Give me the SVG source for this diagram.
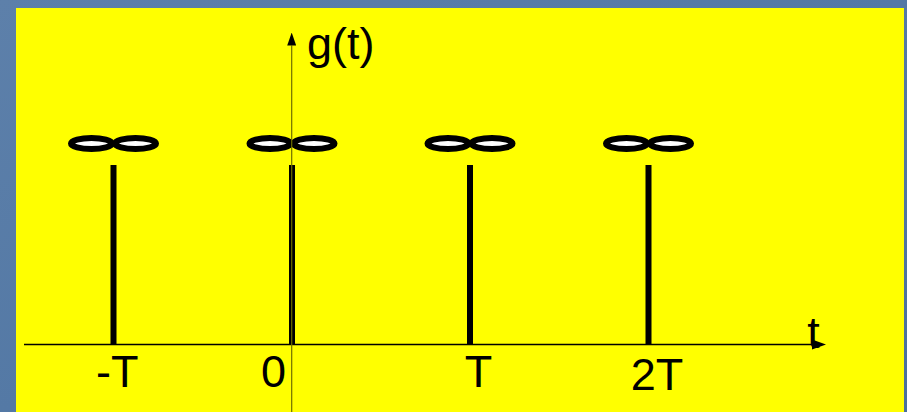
<svg xmlns="http://www.w3.org/2000/svg" width="907" height="412" viewBox="0 0 907 412">
  <defs>
    <linearGradient id="bg" x1="0" y1="0" x2="1" y2="1">
      <stop offset="0" stop-color="#5d80aa"/>
      <stop offset="0.5" stop-color="#5479a5"/>
      <stop offset="1" stop-color="#4a6f9c"/>
    </linearGradient>
    <marker id="arrowH" viewBox="0 0 14 10" refX="0" refY="5" markerWidth="14" markerHeight="10" markerUnits="userSpaceOnUse" orient="auto">
      <path d="M0,0 L14,5 L0,10 Z" fill="#000"/>
    </marker>
    <marker id="arrowV" viewBox="0 0 13 9" refX="0" refY="4.5" markerWidth="13" markerHeight="9" markerUnits="userSpaceOnUse" orient="auto">
      <path d="M0,0 L13,4.5 L0,9 Z" fill="#000"/>
    </marker>
  </defs>
  <style>
    .lbl { font-family: "Liberation Sans", Arial, sans-serif; font-size: 45px; fill: #000; }
    .stem { stroke: #000; stroke-width: 6; }
    .inf { fill: #fff; stroke: #000; stroke-width: 6; }
  </style>

  <rect x="0" y="0" width="907" height="412" fill="url(#bg)"/>
  <rect x="16" y="8" width="888" height="410" fill="#ffff00"/>

  <g id="impulse-minusT">
    <line class="stem" x1="113.5" y1="165" x2="113.5" y2="344.5"/>
    <ellipse class="inf" cx="91.5" cy="143.5" rx="20.5" ry="5.5"/>
    <ellipse class="inf" cx="135.5" cy="143.5" rx="20.5" ry="5.5"/>
  </g>
  <g id="impulse-0">
    <line class="stem" x1="292" y1="165" x2="292" y2="344.5"/>
    <ellipse class="inf" cx="270" cy="143.5" rx="20.5" ry="5.5"/>
    <ellipse class="inf" cx="314" cy="143.5" rx="20.5" ry="5.5"/>
  </g>
  <g id="impulse-T">
    <line class="stem" x1="470" y1="165" x2="470" y2="344.5"/>
    <ellipse class="inf" cx="448" cy="143.5" rx="20.5" ry="5.5"/>
    <ellipse class="inf" cx="492" cy="143.5" rx="20.5" ry="5.5"/>
  </g>
  <g id="impulse-2T">
    <line class="stem" x1="648.5" y1="165" x2="648.5" y2="344.5"/>
    <ellipse class="inf" cx="626.5" cy="143.5" rx="20.5" ry="5.5"/>
    <ellipse class="inf" cx="670.5" cy="143.5" rx="20.5" ry="5.5"/>
  </g>

  <g id="connectors">
    <line x1="24" y1="344.5" x2="812" y2="344.5" stroke="#000" stroke-width="1.6" marker-end="url(#arrowH)"/>
    <line x1="291.7" y1="412" x2="291.7" y2="45.5" stroke="#6e6e00" stroke-width="1.2" marker-end="url(#arrowV)"/>
  </g>

  <g id="labels">
    <text class="lbl" x="307" y="59">g(t)</text>
    <text class="lbl" x="813.5" y="348" text-anchor="middle">t</text>
    <text class="lbl" x="96" y="387">-T</text>
    <text class="lbl" x="273.5" y="386.5" text-anchor="middle">0</text>
    <text class="lbl" x="478.5" y="387" text-anchor="middle">T</text>
    <text class="lbl" x="657" y="390" text-anchor="middle">2T</text>
  </g>
</svg>
